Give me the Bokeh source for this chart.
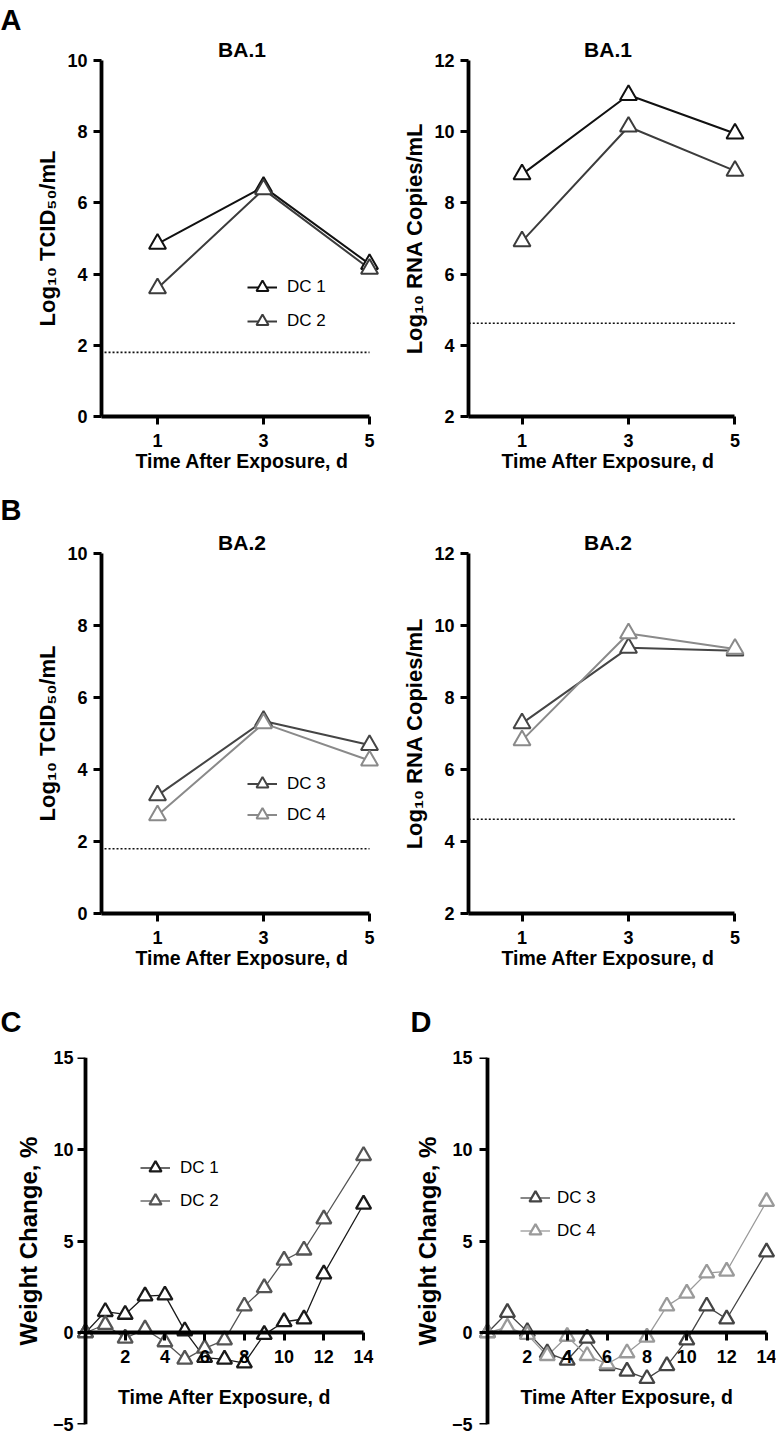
from bokeh.plotting import figure
from bokeh.layouts import column, row
from bokeh.models import Title, Legend, LegendItem, FixedTicker, LinearAxis
from bokeh.embed import file_html
from bokeh.resources import INLINE

FONT = "Liberation Sans"

# ---------------- data ----------------
days_short = [1, 3, 5]
ba1_tcid_dc1 = [4.85, 6.45, 4.28]
ba1_tcid_dc2 = [3.6, 6.38, 4.15]
ba1_rna_dc1 = [8.8, 11.03, 9.95]
ba1_rna_dc2 = [6.92, 10.14, 8.9]
ba2_tcid_dc3 = [3.28, 5.35, 4.68]
ba2_tcid_dc4 = [2.73, 5.28, 4.25]
ba2_rna_dc3 = [7.28, 9.38, 9.3]
ba2_rna_dc4 = [6.81, 9.78, 9.35]
tcid_lod = 1.8
rna_lod = 4.62

days_long = [0, 1, 2, 3, 4, 5, 6, 7, 8, 9, 10, 11, 12, 14]
weight_dc1 = [0, 1.15, 1.0, 2.0, 2.05, 0.1, -1.35, -1.45, -1.65, -0.1, 0.6, 0.75, 3.2, 7.0]
weight_dc2 = [0, 0.45, -0.3, 0.2, -0.5, -1.45, -0.85, -0.4, 1.45, 2.45, 3.95, 4.5, 6.2, 9.65]
weight_dc3 = [0, 1.1, 0.05, -1.1, -1.5, -0.3, -1.8, -2.1, -2.5, -1.8, -0.4, 1.45, 0.75, 4.4]
weight_dc4 = [0, 0.3, -0.1, -1.25, -0.2, -1.25, -1.7, -1.1, -0.25, 1.45, 2.15, 3.25, 3.35, 7.15]

ticks_short_x = [1, 3, 5]
ticks_tcid_y = [0, 2, 4, 6, 8, 10]
ticks_rna_y = [2, 4, 6, 8, 10, 12]
ticks_long_x = [2, 4, 6, 8, 10, 12, 14]
ticks_weight_y = [-5, 0, 5, 10, 15]

Y_TCID = "Log\u2081\u2080 TCID\u2085\u2080/mL"
Y_RNA = "Log\u2081\u2080 RNA Copies/mL"
Y_WT = "Weight Change, %"
X_LBL = "Time After Exposure, d"


def style_axis(ax):
    ax.axis_line_width = 3.8
    ax.axis_line_color = "black"
    ax.major_tick_line_width = 3
    ax.major_tick_line_color = "black"
    ax.major_tick_in = 0
    ax.major_tick_out = 8
    ax.minor_tick_line_color = None
    ax.major_label_text_font = FONT
    ax.major_label_text_font_style = "bold"
    ax.major_label_text_font_size = "18px"
    ax.major_label_text_color = "black"
    ax.major_label_standoff = 6
    ax.axis_label_text_font = FONT
    ax.axis_label_text_font_style = "bold"
    ax.axis_label_text_font_size = "19.5px"
    ax.axis_label_text_color = "black"
    ax.axis_label_standoff = 8


def base_fig(width, height, x_range, y_range, left, right, top, bottom):
    p = figure(width=width, height=height, x_range=x_range, y_range=y_range,
               output_backend="svg", toolbar_location=None, title_location=None,
               min_border_left=left, min_border_right=right,
               min_border_top=top, min_border_bottom=bottom)
    p.outline_line_color = None
    p.grid.visible = False
    p.border_fill_color = "white"
    p.background_fill_color = "white"
    for ax in p.axis:
        style_axis(ax)
    p.yaxis.axis_label_text_font_size = "22px"
    return p


def add_titles(p, title, panel, panel_offset, offset=-7, panel_standoff=0):
    if title:
        p.add_layout(Title(text=title, align="center", offset=offset,
                           text_font=FONT, text_font_style="bold",
                           text_font_size="21px", text_color="black",
                           standoff=0), "above")
    if panel:
        p.add_layout(Title(text=panel, align="left", offset=panel_offset,
                           text_font=FONT, text_font_style="bold",
                           text_font_size="29px", text_color="black",
                           standoff=panel_standoff), "above")


def add_series(p, x, ys, colors, labels, size, lw, mlw, legend_loc, gh, lstand):
    items = []
    lines = []
    for y, c in zip(ys, colors):
        lines.append(p.line(x, y, line_color=c, line_width=lw))
    for ln, y, c, lab in zip(lines, ys, colors, labels):
        sc = p.scatter(x, y, marker="triangle", size=size, line_color=c,
                       line_width=mlw, fill_color="white")
        items.append(LegendItem(label=lab, renderers=[ln, sc]))
    if legend_loc is not None:
        leg = Legend(items=items, location=legend_loc, orientation="vertical",
                     glyph_width=30, glyph_height=gh, spacing=0, padding=0,
                     margin=0, label_standoff=lstand,
                     label_text_font=FONT, label_text_font_size="17px",
                     label_text_color="black",
                     border_line_color=None, background_fill_alpha=0)
        p.add_layout(leg)


def short_panel(width, height, left, right, top, bottom, xr, yr, yticks, ylabel,
                title, panel, x, ys, colors, labels, lod, legend_loc, gh, pstand):
    p = base_fig(width, height, xr, yr, left, right, top, bottom)
    p.xaxis.ticker = FixedTicker(ticks=ticks_short_x)
    p.yaxis.ticker = FixedTicker(ticks=yticks)
    p.xaxis.bounds = (xr[0], max(x))
    p.xaxis.axis_label = X_LBL
    p.yaxis.axis_label = ylabel
    p.yaxis.axis_label_standoff = 4
    p.xaxis.major_label_standoff = 9
    p.xaxis.axis_label_standoff = 0
    p.line([0, max(x)], [lod, lod], line_color="#111111", line_width=1.6,
           line_dash="2 2")
    add_series(p, x, ys, colors, labels, 17, 2.0, 2.0, legend_loc, gh, 10)
    add_titles(p, title, panel, -left, panel_standoff=pstand)
    return p


def long_panel(width, height, left, right, top, bottom, xr, x, ys, colors,
               labels, panel, panel_offset, legend_loc, lab_standoff, lstand):
    p = base_fig(width, height, xr, (-5, 15), left, right, top, bottom)
    p.xaxis.ticker = FixedTicker(ticks=ticks_long_x)
    p.xaxis.fixed_location = 0
    p.xaxis.bounds = (0, max(x))
    p.xaxis.axis_label = X_LBL
    p.xaxis.major_label_standoff = 9
    p.xaxis.axis_label_standoff = 20
    # primary left axis: only labels (sits at the frame edge)
    p.yaxis.ticker = FixedTicker(ticks=ticks_weight_y)
    p.yaxis.axis_line_color = None
    p.yaxis.major_tick_line_color = None
    p.yaxis.major_tick_out = 0
    p.yaxis.major_label_standoff = lab_standoff
    p.yaxis.axis_label = Y_WT
    p.yaxis.axis_label_text_font_size = "24px"
    p.yaxis.axis_label_standoff = 8
    # spine at x = 0
    spine = LinearAxis(fixed_location=0, ticker=FixedTicker(ticks=ticks_weight_y))
    style_axis(spine)
    spine.major_label_text_font_size = "0px"
    spine.major_label_text_alpha = 0
    p.add_layout(spine, "left")
    add_series(p, x, ys, colors, labels, 15, 1.3, 2.3, legend_loc, 33, lstand)
    add_titles(p, None, panel, panel_offset, panel_standoff=40)
    return p


pA1 = short_panel(390, 480, 101, 8, 60, 64, (-0.057, 5.245), (0, 10), ticks_tcid_y,
                  Y_TCID, "BA.1", "A", days_short, [ba1_tcid_dc1, ba1_tcid_dc2],
                  ["#111111", "#3c3c3c"], ["DC 1", "DC 2"], tcid_lod, (146, 78), 34, 0)
pA2 = short_panel(390, 480, 78, 33, 60, 64, (-0.005, 5.235), (2, 12), ticks_rna_y,
                  Y_RNA, "BA.1", None, days_short, [ba1_rna_dc1, ba1_rna_dc2],
                  ["#111111", "#3c3c3c"], ["DC 1", "DC 2"], rna_lod, None, 34, 0)
pB1 = short_panel(390, 498, 101, 8, 73, 65, (-0.057, 5.245), (0, 10), ticks_tcid_y,
                  Y_TCID, "BA.2", "B", days_short, [ba2_tcid_dc3, ba2_tcid_dc4],
                  ["#454545", "#8a8a8a"], ["DC 3", "DC 4"], tcid_lod, (146, 83), 31, 6)
pB2 = short_panel(390, 498, 78, 33, 73, 65, (-0.005, 5.235), (2, 12), ticks_rna_y,
                  Y_RNA, "BA.2", None, days_short, [ba2_rna_dc3, ba2_rna_dc4],
                  ["#454545", "#8a8a8a"], ["DC 3", "DC 4"], rna_lod, None, 31, 0)
pC = long_panel(390, 459, 75, 17, 79, 13, (-0.5, 14.5), days_long,
                [weight_dc1, weight_dc2], ["#1a1a1a", "#555555"], ["DC 1", "DC 2"],
                "C", -75, (65, 207), 2, 10)
pD = long_panel(390, 459, 87, 5, 79, 13, (-0.5, 14.45), days_long,
                [weight_dc3, weight_dc4], ["#444444", "#9a9a9a"], ["DC 3", "DC 4"],
                "D", -67, (43, 177), 5, 7)

layout = column(row(pA1, pA2), row(pB1, pB2), row(pC, pD))

with open("out.html", "w") as f:
    f.write(file_html(layout, INLINE))
